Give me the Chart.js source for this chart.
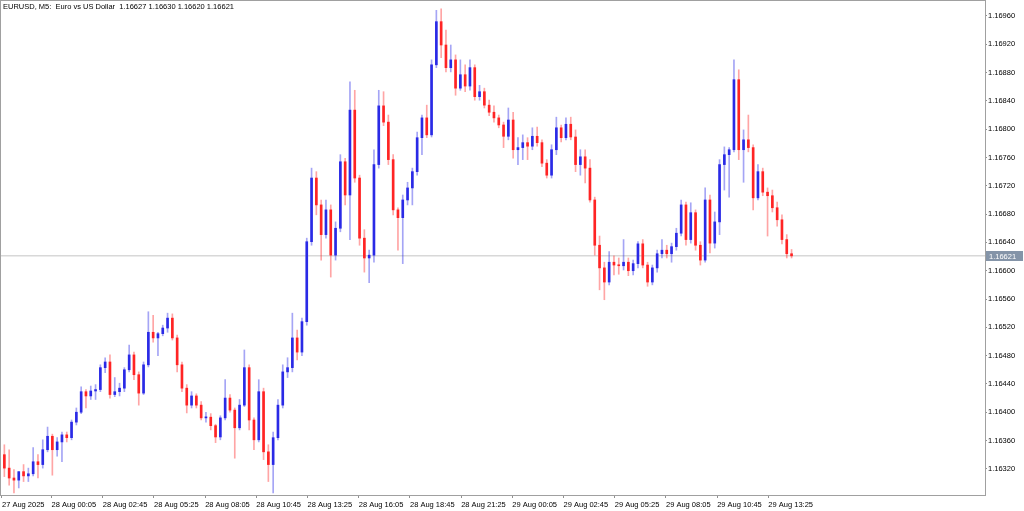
<!DOCTYPE html>
<html>
<head>
<meta charset="utf-8">
<title>EURUSD M5</title>
<script src="https://cdn.jsdelivr.net/npm/chart.js@4.4.1/dist/chart.umd.min.js"></script>
<style>
  html, body { margin: 0; padding: 0; background: #ffffff; }
  canvas { display: block; }
</style>
</head>
<body>
<canvas id="priceChart" width="1024" height="511"></canvas>
<script>
// ===== EURUSD, M5 candles (drawn as 15-minute blocks) =====

const titleText = "EURUSD, M5:  Euro vs US Dollar  1.16627 1.16630 1.16620 1.16621";

// time axis: tick positions counted in M5 bars from 27 Aug 21:30
const timeTickBars = [0, 31, 63, 95, 127, 159, 191, 223, 255, 287, 319, 351, 383, 415, 447, 479];
const timeTickLabels = [
  "27 Aug 2025", "28 Aug 00:05", "28 Aug 02:45", "28 Aug 05:25", "28 Aug 08:05",
  "28 Aug 10:45", "28 Aug 13:25", "28 Aug 16:05", "28 Aug 18:45", "28 Aug 21:25",
  "29 Aug 00:05", "29 Aug 02:45", "29 Aug 05:25", "29 Aug 08:05", "29 Aug 10:45",
  "29 Aug 13:25"
];

const priceTicks = [
  1.16320, 1.16360, 1.16400, 1.16440, 1.16480, 1.16520, 1.16560, 1.16600, 1.16640,
  1.16680, 1.16720, 1.16760, 1.16800, 1.16840, 1.16880, 1.16920, 1.16960
];

const opens = [
  1.16340,1.16321,1.16307,1.16304,1.16316,1.16310,1.16313,1.16330,1.16326,1.16347,
  1.16366,1.16347,1.16358,1.16368,1.16364,1.16386,1.16400,1.16429,1.16423,1.16430,
  1.16432,1.16463,1.16471,1.16425,1.16429,1.16434,1.16460,1.16481,1.16453,1.16427,
  1.16467,1.16513,1.16505,1.16511,1.16519,1.16533,1.16505,1.16467,1.16434,1.16410,
  1.16423,1.16410,1.16392,1.16393,1.16381,1.16365,1.16392,1.16420,1.16403,1.16378,
  1.16410,1.16463,1.16389,1.16361,1.16429,1.16344,1.16326,1.16364,1.16410,1.16457,
  1.16463,1.16505,1.16485,1.16528,1.16641,1.16731,1.16693,1.16651,1.16686,1.16622,
  1.16660,1.16754,1.16707,1.16827,1.16731,1.16646,1.16618,1.16622,1.16750,1.16833,
  1.16810,1.16757,1.16686,1.16675,1.16700,1.16717,1.16740,1.16788,1.16816,1.16792,
  1.16891,1.16952,1.16919,1.16887,1.16898,1.16858,1.16877,1.16861,1.16887,1.16846,
  1.16853,1.16834,1.16824,1.16816,1.16806,1.16790,1.16813,1.16771,1.16774,1.16781,
  1.16776,1.16790,1.16781,1.16752,1.16735,1.16771,1.16802,1.16788,1.16807,1.16789,
  1.16750,1.16761,1.16745,1.16700,1.16636,1.16604,1.16584,1.16612,1.16608,1.16607,
  1.16612,1.16600,1.16610,1.16638,1.16608,1.16584,1.16604,1.16624,1.16629,1.16624,
  1.16634,1.16653,1.16693,1.16644,1.16682,1.16636,1.16615,1.16700,1.16639,1.16669,
  1.16750,1.16764,1.16771,1.16870,1.16771,1.16785,1.16774,1.16703,1.16740,1.16711,
  1.16706,1.16689,1.16672,1.16644,1.16624
];

const highs = [
  1.16354,1.16347,1.16319,1.16316,1.16326,1.16321,1.16350,1.16340,1.16361,1.16379,
  1.16369,1.16364,1.16372,1.16372,1.16389,1.16406,1.16436,1.16432,1.16437,1.16439,
  1.16467,1.16477,1.16481,1.16449,1.16441,1.16463,1.16495,1.16485,1.16457,1.16471,
  1.16542,1.16537,1.16513,1.16523,1.16540,1.16539,1.16509,1.16471,1.16439,1.16429,
  1.16426,1.16415,1.16400,1.16398,1.16383,1.16395,1.16446,1.16425,1.16406,1.16418,
  1.16488,1.16467,1.16392,1.16446,1.16434,1.16354,1.16372,1.16418,1.16467,1.16477,
  1.16540,1.16516,1.16533,1.16646,1.16745,1.16740,1.16700,1.16700,1.16693,1.16669,
  1.16764,1.16759,1.16867,1.16855,1.16735,1.16658,1.16629,1.16771,1.16855,1.16853,
  1.16820,1.16764,1.16689,1.16707,1.16725,1.16745,1.16796,1.16820,1.16834,1.16898,
  1.16968,1.16970,1.16940,1.16919,1.16905,1.16898,1.16891,1.16898,1.16891,1.16862,
  1.16858,1.16841,1.16833,1.16820,1.16810,1.16830,1.16824,1.16788,1.16792,1.16788,
  1.16802,1.16803,1.16785,1.16757,1.16778,1.16817,1.16806,1.16816,1.16817,1.16799,
  1.16771,1.16771,1.16757,1.16704,1.16649,1.16612,1.16627,1.16621,1.16618,1.16644,
  1.16618,1.16615,1.16641,1.16644,1.16612,1.16608,1.16629,1.16644,1.16636,1.16639,
  1.16660,1.16700,1.16697,1.16696,1.16686,1.16641,1.16717,1.16707,1.16683,1.16757,
  1.16775,1.16774,1.16898,1.16884,1.16799,1.16820,1.16778,1.16750,1.16745,1.16717,
  1.16714,1.16697,1.16679,1.16651,1.16630
];

const lows = [
  1.16309,1.16297,1.16286,1.16293,1.16302,1.16302,1.16310,1.16307,1.16321,1.16344,
  1.16311,1.16338,1.16330,1.16358,1.16361,1.16382,1.16398,1.16406,1.16418,1.16418,
  1.16429,1.16456,1.16420,1.16422,1.16423,1.16429,1.16457,1.16446,1.16410,1.16425,
  1.16464,1.16499,1.16480,1.16508,1.16513,1.16502,1.16457,1.16429,1.16399,1.16406,
  1.16406,1.16389,1.16386,1.16375,1.16357,1.16361,1.16389,1.16400,1.16335,1.16375,
  1.16408,1.16375,1.16347,1.16358,1.16333,1.16302,1.16286,1.16361,1.16406,1.16449,
  1.16457,1.16474,1.16480,1.16523,1.16636,1.16679,1.16615,1.16646,1.16591,1.16615,
  1.16655,1.16693,1.16644,1.16725,1.16636,1.16598,1.16583,1.16612,1.16745,1.16805,
  1.16750,1.16679,1.16629,1.16610,1.16693,1.16693,1.16735,1.16764,1.16788,1.16789,
  1.16887,1.16901,1.16881,1.16881,1.16848,1.16855,1.16853,1.16855,1.16841,1.16841,
  1.16830,1.16819,1.16810,1.16802,1.16774,1.16785,1.16759,1.16750,1.16757,1.16757,
  1.16771,1.16776,1.16747,1.16731,1.16731,1.16764,1.16782,1.16785,1.16785,1.16740,
  1.16735,1.16724,1.16697,1.16622,1.16573,1.16559,1.16580,1.16594,1.16595,1.16601,
  1.16593,1.16594,1.16604,1.16604,1.16578,1.16580,1.16598,1.16618,1.16618,1.16612,
  1.16629,1.16649,1.16636,1.16639,1.16629,1.16608,1.16612,1.16625,1.16632,1.16651,
  1.16714,1.16704,1.16768,1.16757,1.16725,1.16768,1.16686,1.16700,1.16706,1.16649,
  1.16683,1.16663,1.16638,1.16618,1.16618
];

const closes = [
  1.16321,1.16307,1.16304,1.16316,1.16310,1.16313,1.16330,1.16326,1.16347,1.16366,
  1.16347,1.16358,1.16368,1.16364,1.16386,1.16400,1.16429,1.16423,1.16430,1.16432,
  1.16463,1.16471,1.16425,1.16429,1.16434,1.16460,1.16481,1.16453,1.16427,1.16467,
  1.16513,1.16505,1.16511,1.16519,1.16533,1.16505,1.16467,1.16434,1.16410,1.16423,
  1.16410,1.16392,1.16393,1.16381,1.16365,1.16392,1.16420,1.16403,1.16378,1.16410,
  1.16463,1.16389,1.16361,1.16429,1.16344,1.16326,1.16364,1.16410,1.16457,1.16463,
  1.16505,1.16485,1.16528,1.16641,1.16731,1.16693,1.16651,1.16686,1.16622,1.16660,
  1.16754,1.16707,1.16827,1.16731,1.16646,1.16618,1.16622,1.16750,1.16833,1.16810,
  1.16757,1.16686,1.16675,1.16700,1.16717,1.16740,1.16788,1.16816,1.16792,1.16891,
  1.16952,1.16919,1.16887,1.16898,1.16858,1.16877,1.16861,1.16887,1.16846,1.16853,
  1.16834,1.16824,1.16816,1.16806,1.16790,1.16813,1.16771,1.16774,1.16781,1.16776,
  1.16790,1.16781,1.16752,1.16735,1.16771,1.16802,1.16788,1.16807,1.16789,1.16750,
  1.16761,1.16745,1.16700,1.16636,1.16604,1.16584,1.16612,1.16608,1.16607,1.16612,
  1.16600,1.16610,1.16638,1.16608,1.16584,1.16604,1.16624,1.16629,1.16624,1.16634,
  1.16653,1.16693,1.16644,1.16682,1.16636,1.16615,1.16700,1.16639,1.16669,1.16750,
  1.16764,1.16771,1.16870,1.16771,1.16785,1.16774,1.16703,1.16740,1.16711,1.16706,
  1.16689,1.16672,1.16644,1.16624,1.16621
];

const BARS_PER_CANDLE = 3;   // one drawn candle = three M5 bars
const lastPrice = closes[closes.length - 1];

const FONT = { family: '"Liberation Sans", Arial, sans-serif', size: 7.5 };

// candle colour by direction
function candleColor(i, alpha) {
  const o = opens[i], c = closes[i];
  if (c > o) return alpha ? "rgba(40, 40, 230, 0.42)" : "#2a2ae6";
  if (c < o) return alpha ? "rgba(255, 40, 40, 0.42)" : "#ff2424";
  return alpha ? "rgba(130, 130, 130, 0.45)" : "#8c8c8c";
}

const candleX = i => i * BARS_PER_CANDLE + 1.5;

const wickData = highs.map((h, i) => ({ x: candleX(i), y: [lows[i], h] }));
const bodyData = opens.map((o, i) => ({ x: candleX(i), y: [o, closes[i]] }));

// frame round the plot, title text and the last price tag
const mtOverlay = {
  id: "mtOverlay",
  afterDraw(chart) {
    const { ctx, chartArea: a, scales } = chart;
    ctx.save();
    ctx.strokeStyle = "#a0a0a0";
    ctx.lineWidth = 1;
    ctx.strokeRect(a.left - 0.5, a.top - 0.5, a.right - a.left + 1, a.bottom - a.top + 1);

    ctx.font = `${FONT.size}px ${FONT.family}`;
    ctx.fillStyle = "#000000";
    ctx.textBaseline = "middle";
    ctx.textAlign = "left";
    ctx.fillText(titleText, 3, 7);

    const py = Math.round(scales.y.getPixelForValue(lastPrice));
    ctx.fillStyle = "#8494a8";
    ctx.fillRect(a.right + 1, py - 5, 37, 10);
    ctx.fillStyle = "#ffffff";
    ctx.fillText(lastPrice.toFixed(5), a.right + 4, py + 0.5);
    ctx.restore();
  }
};

const ctx = document.getElementById("priceChart").getContext("2d");

new Chart(ctx, {
  type: "bar",
  data: {
    datasets: [
      {
        type: "line",
        label: "last",
        data: [{ x: -0.6, y: lastPrice }, { x: 614.4, y: lastPrice }],
        borderColor: "#c4c4c4",
        borderWidth: 1,
        pointRadius: 0,
        order: 3
      },
      {
        label: "wick",
        data: wickData,
        backgroundColor: c => candleColor(c.dataIndex, true),
        barThickness: 1,
        grouped: false,
        borderWidth: 0,
        order: 2
      },
      {
        label: "body",
        data: bodyData,
        backgroundColor: c => candleColor(c.dataIndex, false),
        barThickness: 2,
        minBarLength: 1,
        grouped: false,
        borderWidth: 0,
        order: 1
      }
    ]
  },
  options: {
    responsive: false,
    animation: false,
    devicePixelRatio: 1,
    layout: { padding: { left: 1, top: 1, right: 0, bottom: 0 } },
    plugins: {
      legend: { display: false },
      tooltip: { enabled: false },
      title: { display: false }
    },
    scales: {
      x: {
        type: "linear",
        min: -0.6,
        max: 614.4,
        offset: false,
        afterBuildTicks: s => { s.ticks = timeTickBars.map(v => ({ value: v })); },
        afterFit: s => { s.height = 16; s.paddingLeft = 0; s.paddingRight = 0; },
        grid: { display: true, drawOnChartArea: false, offset: false, tickLength: 3, tickColor: "#909090" },
        border: { display: false },
        ticks: {
          autoSkip: false,
          maxRotation: 0,
          align: "start",
          padding: 2,
          color: "#000000",
          font: FONT,
          callback: (v, i) => timeTickLabels[i]
        }
      },
      y: {
        position: "right",
        min: 1.16283,
        max: 1.169812,
        afterBuildTicks: s => { s.ticks = priceTicks.map(v => ({ value: v })); },
        afterFit: s => { s.width = 39; s.paddingTop = 0; s.paddingBottom = 0; },
        grid: { display: true, drawOnChartArea: false, tickLength: 2, tickColor: "#909090" },
        border: { display: false },
        ticks: {
          padding: 1,
          color: "#000000",
          font: FONT,
          callback: v => v.toFixed(5)
        }
      }
    }
  },
  plugins: [mtOverlay]
});
</script>
</body>
</html>
